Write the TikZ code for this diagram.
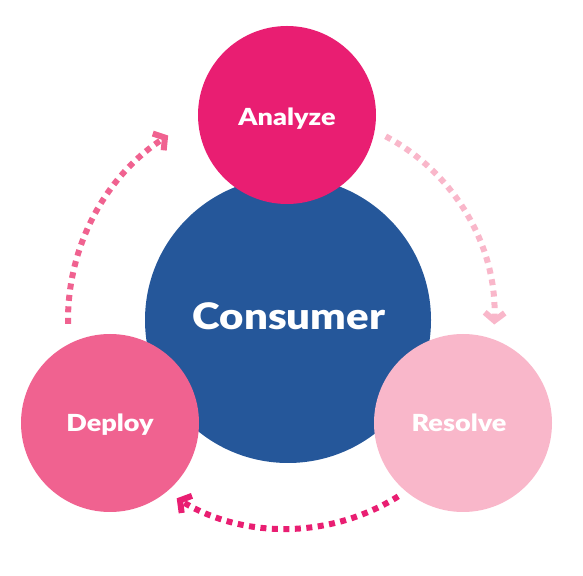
\documentclass[tikz,border=0pt]{standalone}
\usepackage{fontspec}
\setmainfont{Lato}[BoldFont={Lato Black}]
\usetikzlibrary{arrows.meta}
\definecolor{cblue}{HTML}{25579A}
\definecolor{canalyze}{HTML}{E91E72}
\definecolor{cdeploy}{HTML}{F06290}
\definecolor{cresolve}{HTML}{F9B7CA}
\tikzset{
  bubble/.style={circle, inner sep=0pt},
  label small/.style={anchor=base, inner sep=0pt, text=white, xscale=1.15,
    font=\bfseries\fontsize{23.5}{26}\selectfont},
  label big/.style={anchor=base, inner sep=0pt, text=white, xscale=1.15,
    font=\bfseries\fontsize{36.5}{40}\selectfont},
  cyclearc/.style={line width=6pt, dash pattern=on 6pt off 5.5pt,
    -{Straight Barb[length=8pt,width=20pt,line width=6pt]}},
}
\begin{document}
\begin{tikzpicture}[x=1pt,y=1pt]
\useasboundingbox (0,0) rectangle (583,575);
\node[bubble, fill=cblue, minimum size=286pt] (consumer) at (288,255) {};
\node[bubble, fill=canalyze, minimum size=178pt] (analyze) at (287,460) {};
\node[bubble, fill=cdeploy, minimum size=178pt] (deploy) at (110,152) {};
\node[bubble, fill=cresolve, minimum size=178pt] (resolve) at (463,152) {};
\node[label big] (tconsumer) at (289,245) {Consumer};
\node[label small] (tanalyze) at (287,449) {Analyze};
\node[label small] (tdeploy) at (110,143) {Deploy};
\node[label small] (tresolve) at (459,143) {Resolve};
% arcs around the central node
\draw[cyclearc, draw=cdeploy] ([shift={(181:220pt)}]consumer.center) coordinate (l0)
  arc[start angle=181, end angle=123, radius=220pt] coordinate (l1);
\draw[cyclearc, draw=cresolve] ([shift={(62:208pt)}]consumer.center) coordinate (r0)
  arc[start angle=62, end angle=-2, radius=205pt] coordinate (r1);
\draw[cyclearc, draw=canalyze] ([shift={(-58:208pt)}]consumer.center) coordinate (b0)
  arc[start angle=-58, end angle=-121, radius=212pt] coordinate (b1);
\end{tikzpicture}
\end{document}
